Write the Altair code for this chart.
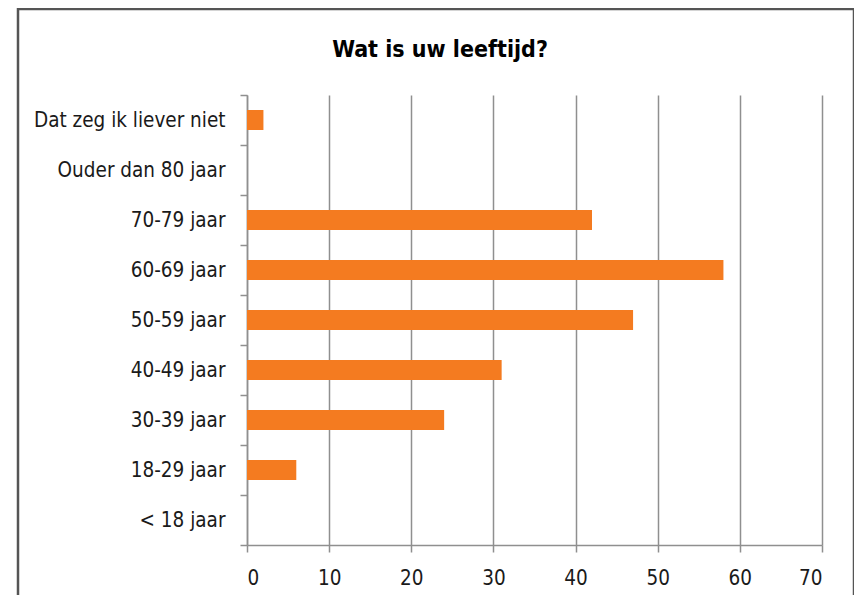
import altair as alt
import pandas as pd

categories = ["Dat zeg ik liever niet", "Ouder dan 80 jaar", "70-79 jaar", "60-69 jaar",
              "50-59 jaar", "40-49 jaar", "30-39 jaar", "18-29 jaar", "< 18 jaar"]
values = [2, 0, 42, 58, 47, 31, 24, 6, 0]
x_ticks = [0, 10, 20, 30, 40, 50, 60, 70]
title_text = "Wat is uw leeftijd?"

df = pd.DataFrame({"cat": categories, "val": values})

FONT = "DejaVu Sans Condensed, Liberation Sans, sans-serif"

bars = alt.Chart(df).mark_bar(size=20, color="#F47B20").encode(
    x=alt.X("val:Q", scale=alt.Scale(domain=[0, 70], nice=False),
            axis=alt.Axis(values=x_ticks, title=None, grid=True, gridColor="#8f8f8f",
                          gridWidth=1.5, tickSize=7, tickColor="#8f8f8f", tickWidth=1.5,
                          domainColor="#8f8f8f", domainWidth=1.5, labelPadding=16,
                          labelFontSize=20.5, labelFont=FONT, labelColor="#1a1a1a")),
    y=alt.Y("cat:N", sort=categories, scale=alt.Scale(paddingInner=0, paddingOuter=0),
            axis=alt.Axis(title=None, grid=False, tickBand="extent", tickSize=7,
                          tickColor="#8f8f8f", tickWidth=1.5, domainColor="#8f8f8f",
                          domainWidth=1.5, labelPadding=15, labelFontSize=20.5,
                          labelFont=FONT, labelColor="#1a1a1a", labelLimit=400)),
)

border = alt.Chart(pd.DataFrame({"a": [0]})).mark_rect(
    fill=None, stroke="#555555", strokeWidth=2.5
).encode(
    x=alt.value(-229), x2=alt.value(607), y=alt.value(-86), y2=alt.value(540)
)

title = alt.Chart(pd.DataFrame({"t": [title_text]})).mark_text(
    font=FONT, fontSize=23, fontWeight="bold", color="#000000",
    align="center", baseline="alphabetic"
).encode(
    x=alt.value(193), y=alt.value(-38), text="t:N"
)

chart = alt.layer(border, bars, title).properties(
    width=575, height=450,
    autosize=alt.AutoSizeParams(type="none"),
    padding={"left": 239, "top": 87, "right": 32, "bottom": 50},
).configure_view(stroke=None)

chart.save("out.html", embed_options={"renderer": "svg", "actions": False})
